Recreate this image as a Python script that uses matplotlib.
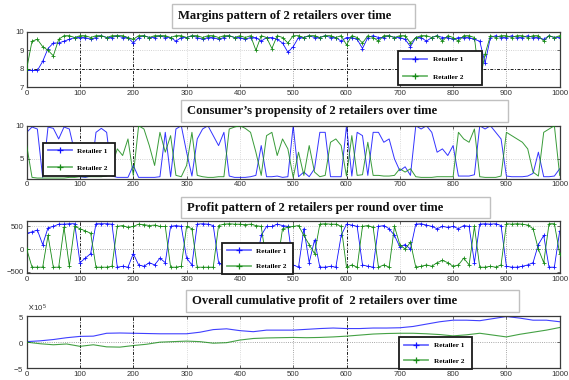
import numpy as np
import matplotlib
matplotlib.use("Agg")
import matplotlib.pyplot as plt
from matplotlib.lines import Line2D
from matplotlib.patches import Rectangle
from matplotlib.ticker import ScalarFormatter

# ---------------- data ----------------
rounds = list(range(0, 1001, 10))

margin_r1 = [7.9, 7.9, 7.9, 8.4, 9.1, 9.4, 9.4, 9.5, 9.6, 9.7,
             9.7, 9.7, 9.6, 9.7, 9.8, 9.7, 9.7, 9.8, 9.7, 9.7,
             9.4, 9.7, 9.8, 9.7, 9.7, 9.8, 9.7, 9.7, 9.5, 9.7,
             9.7, 9.8, 9.7, 9.6, 9.7, 9.7, 9.6, 9.7, 9.8, 9.7,
             9.7, 9.6, 9.7, 9.7, 9.5, 9.7, 9.7, 9.6, 9.4, 8.9,
             9.2, 9.7, 9.7, 9.8, 9.7, 9.7, 9.8, 9.7, 9.7, 9.5,
             9.7, 9.7, 9.6, 9.1, 9.7, 9.8, 9.7, 9.7, 9.8, 9.7,
             9.7, 9.6, 9.2, 9.7, 9.7, 9.5, 9.7, 9.8, 9.7, 9.7,
             9.6, 9.7, 9.7, 9.7, 9.6, 9.5, 8.3, 9.7, 9.8, 9.7,
             9.7, 9.8, 9.7, 9.7, 9.8, 9.7, 9.7, 9.6, 9.8, 9.7, 9.7]
margin_r2 = [8.0, 9.5, 9.6, 9.2, 9.0, 8.7, 9.6, 9.8, 9.8, 9.7,
             9.8, 9.8, 9.7, 9.8, 9.8, 9.7, 9.8, 9.8, 9.8, 9.7,
             9.6, 9.8, 9.8, 9.7, 9.8, 9.8, 9.8, 9.7, 9.8, 9.8,
             9.7, 9.8, 9.8, 9.7, 9.8, 9.8, 9.7, 9.8, 9.8, 9.7,
             9.8, 9.7, 9.8, 9.0, 9.8, 9.7, 9.1, 9.8, 9.7, 9.4,
             9.8, 9.8, 9.7, 9.8, 9.8, 9.7, 9.8, 9.8, 9.7, 9.8,
             9.3, 9.8, 9.7, 9.4, 9.8, 9.7, 9.5, 9.8, 9.8, 9.7,
             9.8, 9.8, 9.4, 9.7, 9.8, 9.8, 9.7, 9.8, 9.5, 9.8,
             9.7, 9.5, 9.8, 9.8, 9.7, 7.3, 8.8, 9.8, 9.7, 9.8,
             9.8, 9.7, 9.8, 9.8, 9.7, 9.8, 9.8, 9.5, 9.8, 9.7, 9.8]

propensity_r1 = [9.0, 9.8, 9.5, 2.2, 9.8, 9.6, 8.0, 9.8, 9.5, 6.0,
                 2.3, 2.2, 2.4, 9.0, 9.6, 9.0, 2.4, 2.2, 2.2, 2.2,
                 4.0, 2.2, 2.2, 2.2, 2.2, 2.3, 9.0, 2.3, 9.5, 10.0,
                 6.0, 2.4, 8.0, 9.5, 10.0, 8.5, 7.0, 9.0, 2.4, 2.2,
                 2.2, 2.2, 2.3, 2.5, 7.0, 2.3, 2.3, 2.4, 2.2, 2.3,
                 10.0, 2.3, 3.0, 2.3, 3.5, 9.0, 9.0, 2.3, 2.3, 2.3,
                 10.0, 2.4, 9.0, 8.5, 2.5, 9.0, 9.0, 7.5, 8.0, 5.0,
                 3.2, 3.8, 2.5, 10.0, 9.5, 10.0, 9.0, 6.0, 6.5, 5.5,
                 7.0, 2.4, 2.4, 2.4, 2.6, 10.0, 9.5, 10.0, 9.0, 8.0,
                 2.4, 2.3, 2.3, 2.3, 2.4, 2.8, 6.0, 2.3, 2.3, 2.4, 3.5]
propensity_r2 = [7.0, 2.2, 2.1, 2.1, 2.1, 2.1, 2.1, 2.1, 2.2, 2.2,
                 2.3, 2.3, 2.3, 2.3, 2.3, 2.4, 4.0, 6.5, 5.5, 8.0,
                 2.5, 10.0, 9.5, 7.0, 4.0, 9.0, 6.0, 8.5, 2.5, 2.3,
                 4.0, 9.0, 2.5, 2.3, 2.2, 2.2, 2.3, 2.3, 9.5, 9.8,
                 10.0, 9.6, 9.0, 6.0, 2.5, 8.5, 9.0, 5.5, 8.0, 6.5,
                 2.2, 6.0, 2.5, 7.0, 3.0, 2.3, 2.5, 7.5, 8.0, 7.0,
                 2.4, 8.5, 2.5, 2.6, 7.5, 2.5, 2.5, 2.4, 2.4, 2.5,
                 3.5, 3.0, 3.5, 2.3, 2.2, 2.2, 2.2, 2.3, 2.3, 2.3,
                 2.3, 9.0, 8.0, 7.5, 9.5, 2.3, 2.2, 2.2, 2.2, 2.4,
                 9.0, 8.5, 8.0, 7.5, 6.5, 3.0, 2.4, 9.0, 9.5, 10.0, 2.5]

profit_r1 = [350, 380, 420, 100, 470, 500, 550, 550, 560, 560,
             -300, -200, -100, 560, 560, 560, 550, -400, -380, -400,
             -100, -350, -380, -300, -350, -200, -300, 500, 520, 500,
             -200, -350, 550, 560, 550, 520, -300, -380, -400, -400,
             -400, -380, -400, -350, 300, 500, 500, 550, 520, 500,
             -350, -400, 450, -300, 200, -400, -400, -380, -400, 300,
             550, 530, 500, -350, -380, -400, 500, 520, 450, 300,
             50, 100, 0, 550, 560, 530, 500, 450, 500, 480,
             500, 450, 520, 500, -300, 550, 560, 550, 560, 520,
             -380, -400, -400, -380, -350, -300, 100, 300, -400, -400, 400]
profit_r2 = [0, -400, -400, -400, 300, -400, -400, 480, -380, 500,
             450, 400, 350, -400, -400, -400, -380, 500, 520, 480,
             500, 550, 540, 520, 530, 500, 500, -400, -400, -380,
             500, 450, -400, -400, -400, -400, 520, 550, 560, 550,
             550, 540, 550, 520, 500, -300, 100, -350, 450, 480,
             500, 520, 300, 100, -100, 550, 560, 550, 550, 500,
             -400, -350, -400, 500, 520, 480, -400, -350, -400, 500,
             100, 0, 150, -400, -380, -350, -380, -300, -250, -300,
             -380, -350, -200, -350, 500, -400, -400, -380, -400, -350,
             560, 550, 560, 550, 530, 450, 0, -300, 560, 560, -100]

cum_rounds = list(range(0, 1001, 25))
cum_r1 = [0.1, 0.25, 0.5, 0.85, 1.1, 1.15, 1.7, 1.75, 1.7, 1.65,
          1.6, 1.6, 1.6, 1.9, 2.4, 2.55, 2.2, 2.0, 2.3, 2.3,
          2.3, 2.45, 2.6, 2.7, 2.6, 2.6, 2.7, 2.7, 2.75, 3.0,
          3.45, 3.9, 4.2, 4.2, 4.1, 4.5, 4.9, 4.6, 4.2, 4.2, 3.9]
cum_r2 = [0.0, -0.3, -0.5, -0.35, -0.8, -0.5, -0.9, -0.95, -0.65, -0.4,
          0.0, 0.1, 0.2, 0.1, -0.2, -0.1, 0.4, 0.7, 0.8, 0.85,
          0.9, 0.85, 0.9, 1.0, 1.15, 1.35, 1.55, 1.65, 1.7, 1.7,
          1.6, 1.45, 1.2, 1.4, 1.7, 1.35, 1.0, 1.5, 1.9, 2.3, 2.8]
cum_scale = 1e5

titles = ["Margins pattern of 2 retailers over time",
          "Consumer\u2019s propensity of 2 retailers over time",
          "Profit pattern of 2 retailers per round over time",
          "Overall cumulative profit of  2 retailers over time"]
legend_labels = ["Retailer 1", "Retailer 2"]
xticks = list(range(0, 1001, 100))

# ---------------- style ----------------
W, H = 569, 380
BLUE = "#1010ff"
GREEN = "#168a16"
SERIF = "Liberation Serif"
SANS = "Liberation Sans"
TICK_FS = 5.6

fig = plt.figure(figsize=(W / 100, H / 100), dpi=100)
fig.patch.set_facecolor("white")


def fx(px):
    return px / W


def fy(py):
    return 1 - py / H


def make_axes(top_px, bottom_px):
    left, right = 26.7, 559.7
    return fig.add_axes([fx(left), fy(bottom_px), (right - left) / W, (bottom_px - top_px) / H])


grid_style = {100: "dark", 200: "dark", 300: "light", 400: "light", 500: "mid",
              600: "dark", 700: "light", 800: "light", 900: "mid"}


def vgrid(ax):
    for xv, kind in grid_style.items():
        if kind == "dark":
            ax.axvline(xv, color="#1a1a1a", lw=0.7, ls=(0, (3, 1.5, 1, 1.5)), zorder=0.5)
        elif kind == "mid":
            ax.axvline(xv, color="#8a8a8a", lw=0.6, ls=":", zorder=0.5)
        else:
            ax.axvline(xv, color="#cfcfcf", lw=0.6, ls=":", zorder=0.5)


def hgrid(ax, yv, kind):
    if kind == "dark":
        ax.axhline(yv, color="#1a1a1a", lw=0.7, ls=(0, (3, 1.5, 1, 1.5)), zorder=0.5)
    elif kind == "mid":
        ax.axhline(yv, color="#8a8a8a", lw=0.6, ls=":", zorder=0.5)
    else:
        ax.axhline(yv, color="#c4c4c4", lw=0.6, ls=":", zorder=0.5)


def style_axes(ax):
    ax.set_xlim(0, 1000)
    ax.set_xticks(xticks)
    ax.tick_params(direction="in", length=2, width=0.5, labelsize=TICK_FS,
                   colors="#333333", top=True, right=True, pad=2)
    for lab in ax.get_xticklabels() + ax.get_yticklabels():
        lab.set_family(SANS)
    for s in ax.spines.values():
        s.set_color("#3a3a3a")
        s.set_linewidth(0.9)
    vgrid(ax)


def add_legend(ax, x0, y0, w, h, spacing):
    handles = [Line2D([], [], color="#6a6aff", lw=1.3, marker="+", ms=4, mew=0.9, mec=BLUE),
               Line2D([], [], color="#6cb86c", lw=1.3, marker="+", ms=4, mew=0.9, mec=GREEN)]
    leg = ax.legend(handles, legend_labels, loc="center left", bbox_to_anchor=(x0, y0, w, h),
                    mode="expand", prop=dict(family=SERIF, weight="bold", size=5.2),
                    frameon=True, fancybox=False, edgecolor="#1a1a1a", framealpha=1,
                    handlelength=3.3, handletextpad=0.8, borderpad=0.7,
                    labelspacing=spacing, borderaxespad=0, numpoints=1)
    leg.get_frame().set_linewidth(1.3)
    leg.set_zorder(10)


def title_box(x0, y0, x1, y1, text):
    fig.patches.append(Rectangle((fx(x0), fy(y1)), (x1 - x0) / W, (y1 - y0) / H,
                                 transform=fig.transFigure, facecolor="white",
                                 edgecolor="#c0c0c0", lw=1.0, zorder=1))
    fig.text(fx(x0 + 6), fy((y0 + y1) / 2), text, family=SERIF, weight="bold",
             fontsize=9.1, ha="left", va="center", color="#111111", zorder=2)


# ---------------- panel 1: margins ----------------
ax1 = make_axes(32, 87)
ax1.plot(rounds, margin_r1, color=BLUE, lw=0.6, marker="+", ms=3.5, mew=0.6, zorder=2)
ax1.plot(rounds, margin_r2, color=GREEN, lw=0.6, marker="+", ms=3.5, mew=0.6, zorder=3)
ax1.set_ylim(7, 10)
ax1.set_yticks([7, 8, 9, 10])
hgrid(ax1, 8, "dark")
hgrid(ax1, 9, "light")
style_axes(ax1)
add_legend(ax1, 0.697, 0.0, 0.157, 0.69, 1.6)

# ---------------- panel 2: propensity ----------------
ax2 = make_axes(125.7, 178.7)
ax2.plot(rounds, propensity_r1, color=BLUE, lw=0.7, alpha=0.85, zorder=2)
ax2.plot(rounds, propensity_r2, color=GREEN, lw=0.7, alpha=0.85, zorder=3)
ax2.set_ylim(2, 10)
ax2.set_yticks([5, 10])
hgrid(ax2, 5, "light")
style_axes(ax2)
add_legend(ax2, 0.030, 0.045, 0.136, 0.647, 1.5)

# ---------------- panel 3: profit ----------------
ax3 = make_axes(221, 273.3)
ax3.plot(rounds, profit_r1, color=BLUE, lw=0.6, marker="+", ms=3.5, mew=0.6, zorder=2)
ax3.plot(rounds, profit_r2, color=GREEN, lw=0.6, marker="+", ms=3.5, mew=0.6, zorder=3)
ax3.set_ylim(-535, 620)
ax3.set_yticks([-500, 0, 500])
hgrid(ax3, 0, "mid")
hgrid(ax3, 500, "light")
style_axes(ax3)
add_legend(ax3, 0.366, -0.01, 0.133, 0.59, 1.3)

# ---------------- panel 4: cumulative profit ----------------
ax4 = make_axes(316, 368.3)
ax4.plot(cum_rounds, np.array(cum_r1) * cum_scale, color=BLUE, lw=0.8, alpha=0.8, zorder=2)
ax4.plot(cum_rounds, np.array(cum_r2) * cum_scale, color=GREEN, lw=0.8, alpha=0.8, zorder=3)
ax4.set_ylim(-5 * cum_scale, 5 * cum_scale)
ax4.set_yticks([-5 * cum_scale, 0, 5 * cum_scale])
fmt = ScalarFormatter(useMathText=True)
fmt.set_powerlimits((0, 0))
ax4.yaxis.set_major_formatter(fmt)
ax4.yaxis.get_offset_text().set_fontsize(TICK_FS)
ax4.yaxis.get_offset_text().set_color("#333333")
ax4.yaxis.get_offset_text().set_family(SANS)
hgrid(ax4, 0, "mid")
style_axes(ax4)
add_legend(ax4, 0.699, 0.0, 0.137, 0.58, 1.3)

# ---------------- title boxes ----------------
title_box(172, 4, 415, 28, titles[0])
title_box(181, 100, 508, 122, titles[1])
title_box(181, 197, 490, 218, titles[2])
title_box(186, 290, 519, 312, titles[3])

fig.savefig("out.png", dpi=100, facecolor="white")
